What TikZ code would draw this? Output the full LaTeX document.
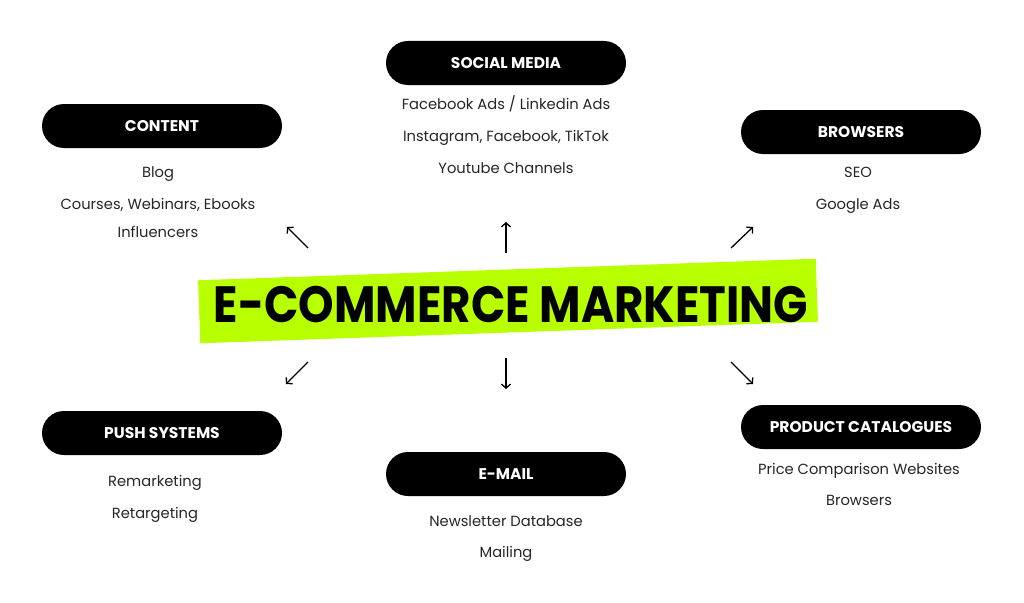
\documentclass[tikz,border=0pt]{standalone}
\usepackage{fontspec}
\usepackage{graphicx}
\setmainfont{Poppins}
\usetikzlibrary{positioning, arrows.meta, calc}
\definecolor{lime}{RGB}{184,255,0}

\begin{document}
\begin{tikzpicture}[x=1pt, y=-1pt,
	pill/.style={rounded corners=22pt, fill=black, text=white, minimum width=240pt,
		minimum height=44pt, font=\fontsize{15.5}{17}\selectfont\bfseries},
	item/.style={font=\fontsize{14.7}{16}\selectfont, text=black!85, inner sep=0pt,
		text height=10.5pt, text depth=3.5pt, yshift=-2pt},
	pointer/.style={-{Straight Barb[length=4pt, width=9pt]}, line width=1.3pt}]
	
	\useasboundingbox[fill=white] (0,0) rectangle (1024,602);
	
	% Centre
	\node[fill=lime, rotate=2, minimum width=618pt, minimum height=63pt] (band) at (508,301) {};
	\node[font=\fontsize{51}{56}\selectfont\bfseries, inner sep=0pt] (title) at (511,305) {\scalebox{0.886}[1]{E-COMMERCE MARKETING}};
	
	% Top row
	\node[pill] (social) at (506,63) {SOCIAL MEDIA};
	\node[item] (social1) at (506,104) {Facebook Ads / Linkedin Ads};
	\node[item] (social2) at (506,136) {Instagram, Facebook, TikTok};
	\node[item] (social3) at (506,168) {Youtube Channels};
	
	\node[pill] (content) at (162,126) {CONTENT};
	\node[item] (content1) at (158,172) {Blog};
	\node[item] (content2) at (158,204) {Courses, Webinars, Ebooks};
	\node[item] (content3) at (158,232) {Influencers};
	
	\node[pill] (browsers) at (861,132) {BROWSERS};
	\node[item] (browsers1) at (858,172) {SEO};
	\node[item] (browsers2) at (858,204) {Google Ads};
	
	% Bottom row
	\node[pill] (push) at (162,433) {PUSH SYSTEMS};
	\node[item] (push1) at (155,481) {Remarketing};
	\node[item] (push2) at (155,513) {Retargeting};
	
	\node[pill] (email) at (506,474) {E-MAIL};
	\node[item] (email1) at (506,521) {Newsletter Database};
	\node[item] (email2) at (506,552) {Mailing};
	
	\node[pill] (catalogues) at (861,427) {PRODUCT CATALOGUES};
	\node[item] (catalogues1) at (859,469) {Price Comparison Websites};
	\node[item] (catalogues2) at (859,500) {Browsers};
	
	% Pointers
	\coordinate (ul0) at (308,248); \coordinate (ul1) at (287,227);
	\coordinate (up0) at (506,253); \coordinate (up1) at (506,222);
	\coordinate (ur0) at (731,248); \coordinate (ur1) at (753,227);
	\coordinate (dl0) at (308,362); \coordinate (dl1) at (286,384);
	\coordinate (dn0) at (506,358); \coordinate (dn1) at (506,389);
	\coordinate (dr0) at (731,362); \coordinate (dr1) at (753,384);
	
	\draw[pointer] (ul0) -- (ul1);
	\draw[pointer] (up0) -- (up1);
	\draw[pointer] (ur0) -- (ur1);
	\draw[pointer] (dl0) -- (dl1);
	\draw[pointer] (dn0) -- (dn1);
	\draw[pointer] (dr0) -- (dr1);
	
\end{tikzpicture}
\end{document}
